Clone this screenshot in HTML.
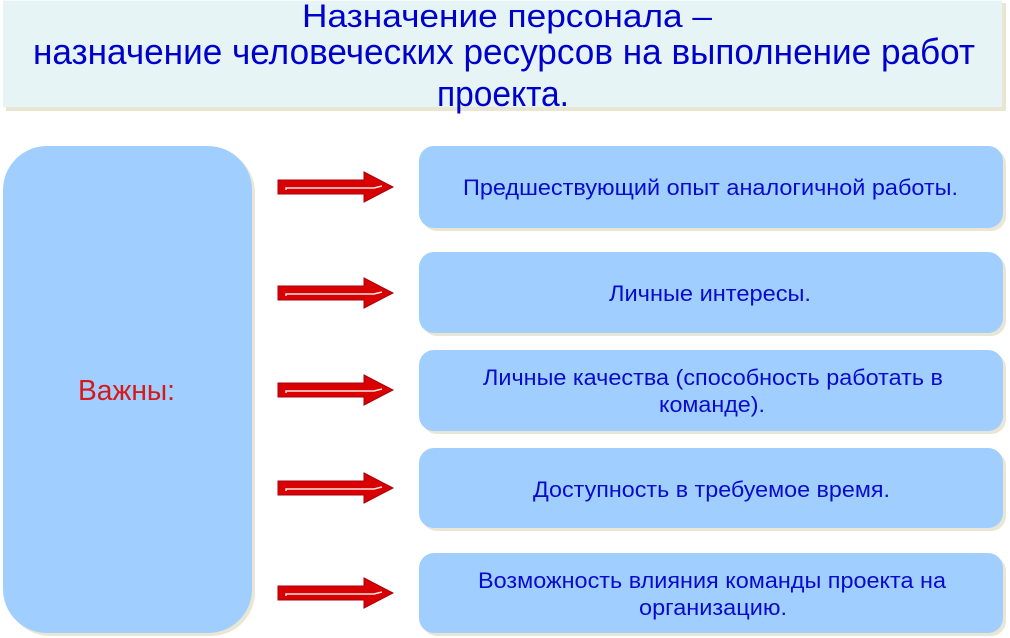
<!DOCTYPE html>
<html>
<head>
<meta charset="utf-8">
<style>
  html,body{margin:0;padding:0;background:#ffffff;}
  body{width:1010px;height:638px;overflow:hidden;}
  svg{display:block;}
  text{font-family:"Liberation Sans","DejaVu Sans",sans-serif;}
</style>
</head>
<body>
<svg width="1010" height="638" viewBox="0 0 1010 638" xmlns="http://www.w3.org/2000/svg">
  <!-- Header -->
  <rect x="6" y="3" width="1000" height="108" fill="#e8e5d3"/>
  <rect x="3" y="0" width="999" height="107" fill="#e6f4f5"/>
  <line x1="3" y1="0.5" x2="1002" y2="0.5" stroke="#f4fbfb" stroke-width="1"/>
  <text x="302" y="27" font-size="32" fill="#0000cc" textLength="410" lengthAdjust="spacingAndGlyphs">Назначение персонала –</text>
  <text x="33" y="64" font-size="36" fill="#0000cc" textLength="942" lengthAdjust="spacingAndGlyphs">назначение человеческих ресурсов на выполнение работ</text>
  <text x="437" y="106" font-size="36" fill="#0000cc" textLength="132" lengthAdjust="spacingAndGlyphs">проекта.</text>

  <!-- Left box -->
  <rect x="6" y="149" width="249" height="487" rx="44" ry="44" fill="#e9e6d6"/>
  <rect x="3" y="146" width="249" height="487" rx="44" ry="44" fill="#a0cfff"/>
  <text x="78" y="400" font-size="29" fill="#d41a1a" textLength="97" lengthAdjust="spacingAndGlyphs">Важны:</text>

  <!-- Right boxes shadows -->
  <g fill="#e9e6d6">
    <rect x="422" y="149" width="584" height="82" rx="15"/>
    <rect x="422" y="255" width="584" height="81" rx="15"/>
    <rect x="422" y="353" width="584" height="81" rx="15"/>
    <rect x="422" y="451" width="584" height="80" rx="15"/>
    <rect x="422" y="556" width="584" height="80" rx="15"/>
  </g>
  <!-- Right boxes -->
  <g fill="#a0cfff">
    <rect x="419" y="146" width="584" height="82" rx="15"/>
    <rect x="419" y="252" width="584" height="81" rx="15"/>
    <rect x="419" y="350" width="584" height="81" rx="15"/>
    <rect x="419" y="448" width="584" height="80" rx="15"/>
    <rect x="419" y="553" width="584" height="80" rx="15"/>
  </g>

  <g font-size="22" fill="#0a0acc">
    <text x="463" y="195" textLength="495" lengthAdjust="spacingAndGlyphs">Предшествующий опыт аналогичной работы.</text>
    <text x="609" y="301" textLength="202" lengthAdjust="spacingAndGlyphs">Личные интересы.</text>
    <text x="483" y="385" textLength="460" lengthAdjust="spacingAndGlyphs">Личные качества (способность работать в</text>
    <text x="659" y="412" textLength="106" lengthAdjust="spacingAndGlyphs">команде).</text>
    <text x="533" y="497" textLength="357" lengthAdjust="spacingAndGlyphs">Доступность в требуемое время.</text>
    <text x="478" y="588" textLength="468" lengthAdjust="spacingAndGlyphs">Возможность влияния команды проекта на</text>
    <text x="639" y="615" textLength="148" lengthAdjust="spacingAndGlyphs">организацию.</text>
  </g>

  <!-- Arrows -->
  <defs>
    <g id="arr">
      <path d="M278,-7 L364,-7 L364,-15 L393,0 L364,15 L364,7 L278,7 Z" fill="#d80000" stroke="#a80010" stroke-width="1"/>
      <polyline points="286,3 286,1 374,1 382,-1" fill="none" stroke="#ffffff" stroke-width="1.5" opacity="0.9"/>
    </g>
  </defs>
  <use href="#arr" transform="translate(0,187)"/>
  <use href="#arr" transform="translate(0,293)"/>
  <use href="#arr" transform="translate(0,390)"/>
  <use href="#arr" transform="translate(0,488)"/>
  <use href="#arr" transform="translate(0,593)"/>
</svg>
</body>
</html>
